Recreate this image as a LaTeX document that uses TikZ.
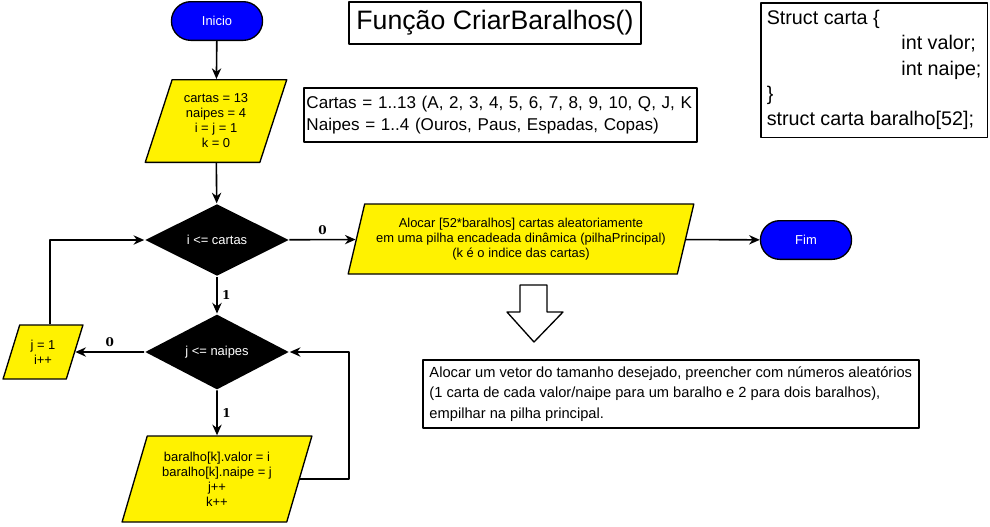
\documentclass[tikz,border=0pt]{standalone}
\usepackage{fontspec}
\setmainfont{Liberation Sans}
\newfontfamily\rotfont{DejaVu Serif}
\usetikzlibrary{shapes.geometric,shapes.misc,arrows.meta}
\begin{document}
\begin{tikzpicture}[x=.75pt, y=-.75pt, >={Stealth[length=8pt,width=7pt]},
		line join=round, line width=1.2pt,
		every node/.style={font=\fontsize{9.7}{11.25}\selectfont, align=center},
		term/.style={rounded rectangle, draw, line width=1pt, fill=blue, text=white,
			minimum width=75pt, minimum height=29pt},
		dado/.style={trapezium, trapezium left angle=70, trapezium right angle=110,
			trapezium stretches=true, draw, line width=1pt, fill=yellow, inner sep=0pt},
		decisao/.style={diamond, fill=black, text=white, inner sep=0pt,
			minimum width=108pt, minimum height=54pt},
		caixa/.style={draw, line width=1.2pt, align=left, inner sep=2pt,
			font=\fontsize{12.5}{16.5}\selectfont},
		rot/.style={font=\rotfont\bfseries\fontsize{9}{10}\selectfont}]
	\useasboundingbox (0,0) rectangle (990,526);
	% fluxograma
	\node[term] (inicio) at (217,21) {Inicio};
	\node[dado, minimum width=106.5pt, minimum height=62pt] (ini) at (216,121)
		{cartas = 13\\naipes = 4\\i = j = 1\\k = 0};
	\node[decisao] (cond1) at (217,240) {i <= cartas};
	\node[dado, minimum width=260pt, minimum height=52.5pt] (aloca) at (521,239)
		{Alocar [52*baralhos] cartas aleatoriamente\\em uma pilha encadeada din\^amica (pilhaPrincipal)\\(k é o indice das cartas)};
	\node[term] (fim) at (806,240) {Fim};
	\node[decisao] (cond2) at (217,352) {j <= naipes};
	\node[dado, minimum width=60pt, minimum height=40.5pt] (incr) at (43,352) {j = 1\\i++};
	\node[dado, minimum width=142.5pt, minimum height=64.5pt] (atrib) at (217,479)
		{baralho[k].valor = i\\baralho[k].naipe = j\\j++\\k++};
	\coordinate (volta) at (349,352);
	\draw[->] (inicio) -- (ini);
	\draw[->] (ini) -- (cond1);
	\draw[->] (cond1) -- node[rot, above]{0} (aloca);
	\draw[->] (aloca) -- (fim);
	\draw[->] (cond1) -- node[rot, right]{1} (cond2);
	\draw[->] (cond2) -- node[rot, above]{0} (incr);
	\draw[->] (cond2) -- node[rot, right]{1} (atrib);
	\draw[->] ([xshift=5.25pt]incr.north) |- (cond1.west);
	\draw[->] (atrib.east) -| (volta) -- (cond2.east);
	% anotacoes
	\node[caixa, align=center, minimum width=219pt, minimum height=31.5pt,
		font=\fontsize{20}{22}\selectfont] (titulo) at (495,23) {Função CriarBaralhos()};
	\node[caixa, anchor=north west, text width=291pt, minimum height=40.5pt,
		font=\fontsize{12.8}{16.5}\selectfont] (notas) at (303,87)
		{\mbox{Cartas = 1..13 (A, 2, 3, 4, 5, 6, 7, 8, 9, 10, Q, J, K}\\Naipes = 1..4 (Ouros, Paus, Espadas, Copas)};
	\node[caixa, anchor=north west, minimum width=170pt, minimum height=101pt,
		font=\fontsize{14.8}{19}\selectfont] (estrut) at (760,2)
		{Struct carta \{\\\hspace*{101pt}int valor;\\\hspace*{101pt}int naipe;\\\}\\struct carta baralho[52];};
	\node[caixa, anchor=north west, minimum width=372pt, minimum height=51pt,
		font=\fontsize{11}{15.5}\selectfont] (descr) at (422,359)
		{Alocar um vetor do tamanho desejado, preencher com números aleatórios\\(1 carta de cada valor/naipe para um baralho e 2 para dois baralhos),\\empilhar na pilha principal.};
	\draw[line width=1pt, fill=white] (520,285) -- (547,285) -- (547,312) -- (563,312)
		-- (534,342) -- (507,312) -- (520,312) -- cycle;
\end{tikzpicture}
\end{document}
